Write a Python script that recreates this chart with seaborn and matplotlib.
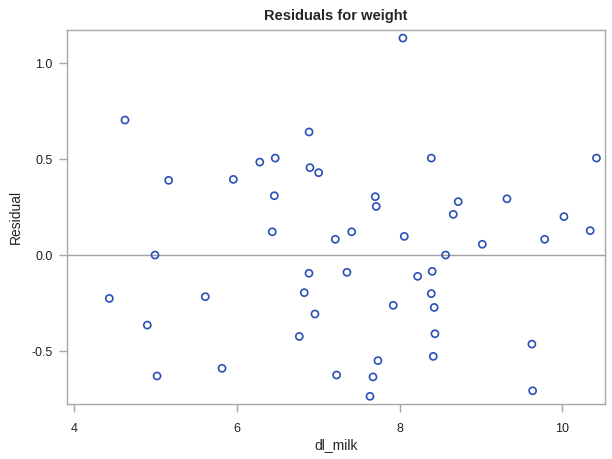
import matplotlib
matplotlib.use("Agg")
import matplotlib.pyplot as plt
import seaborn as sns
import pandas as pd

dl_milk = [4.623, 6.886, 5.16, 5.955, 6.28, 6.47, 6.897, 7.004, 6.459,
           8.04, 8.389, 10.42, 7.70, 7.712, 8.72, 8.659, 9.319, 10.02,
           6.434, 7.209, 4.992, 6.885, 4.43, 5.61, 6.827, 6.959, 4.897,
           6.766, 5.017, 5.816, 7.225,
           7.41, 8.057, 9.016, 9.783, 10.343, 8.565, 7.352, 8.40, 8.221,
           8.389, 7.921, 8.425, 8.434, 9.626, 8.413, 7.733, 7.672, 9.635,
           7.635]
residual = [0.703, 0.641, 0.389, 0.394, 0.484, 0.505, 0.455, 0.429, 0.309,
            1.130, 0.505, 0.505, 0.304, 0.253, 0.278, 0.212, 0.293, 0.200,
            0.121, 0.082, 0.0, -0.095, -0.226, -0.217, -0.196, -0.307, -0.365,
            -0.424, -0.630, -0.590, -0.625,
            0.121, 0.097, 0.056, 0.082, 0.127, 0.0, -0.090, -0.085, -0.111,
            -0.201, -0.262, -0.273, -0.410, -0.464, -0.528, -0.550, -0.635, -0.707,
            -0.736]
x_ticks = [4, 6, 8, 10]
y_ticks = [-0.5, 0.0, 0.5, 1.0]

df = pd.DataFrame({"dl_milk": dl_milk, "Residual": residual})

sns.set_style("white")
plt.rcParams["font.family"] = ["Liberation Sans", "DejaVu Sans"]

fig = plt.figure(figsize=(6.12, 4.59), dpi=100)
ax = fig.add_axes([0.1087, 0.1198, 0.9886 - 0.1087, 0.9346 - 0.1198])

ax.axhline(0, color="#a0a0a0", lw=1.0, zorder=1)
sns.scatterplot(data=df, x="dl_milk", y="Residual", ax=ax, marker="o",
                facecolor="none", edgecolor="#2a4fb5", linewidth=1.2, s=26,
                zorder=3)

ax.set_xlim(3.904, 10.525)
ax.set_ylim(-0.776, 1.172)
ax.set_xticks(x_ticks)
ax.set_xticklabels([str(t) for t in x_ticks])
ax.set_yticks(y_ticks)
ax.set_yticklabels([f"{t:.1f}" for t in y_ticks])

for sp in ax.spines.values():
    sp.set_color("#a8a8a8")
    sp.set_linewidth(1.0)
ax.tick_params(axis="both", which="both", length=6, width=1, color="#a8a8a8",
               labelsize=9, labelcolor="#222222", direction="out",
               bottom=True, left=True, pad=4)
ax.tick_params(axis="x", pad=8)

ax.set_xlabel("dl_milk", fontsize=10, color="#222222", labelpad=2)
ax.set_ylabel("Residual", fontsize=10, color="#222222", labelpad=6)
ax.set_title("Residuals for weight", fontsize=10.5, fontweight="bold", pad=7)

fig.savefig("out.png", dpi=100)
